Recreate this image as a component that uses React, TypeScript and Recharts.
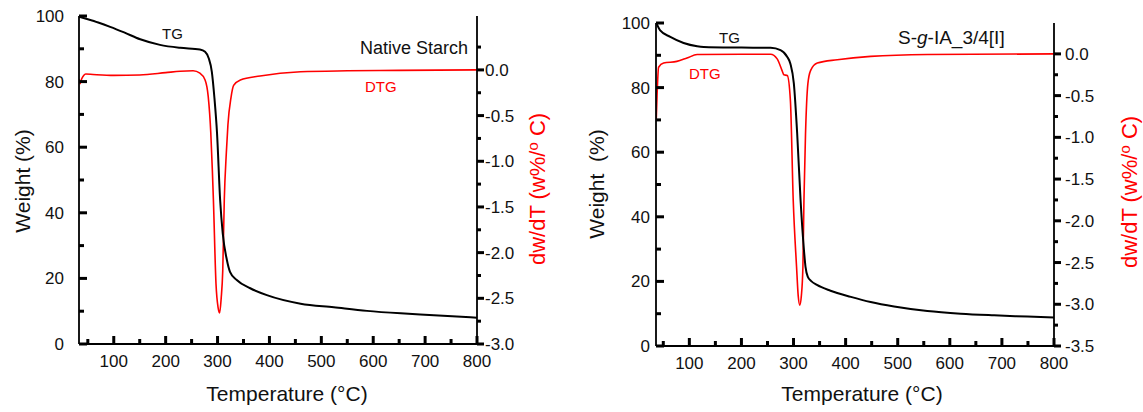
import React from "react";
import { LineChart, Line, XAxis, YAxis } from "recharts";

// axis ticks (majors get labels, minors are just marks)
const tempTicks = [50, 100, 150, 200, 250, 300, 350, 400, 450, 500, 550, 600, 650, 700, 750, 800];
const weightTicks = [0, 10, 20, 30, 40, 50, 60, 70, 80, 90, 100];
const dtgTicksNative = [0.25, 0, -0.25, -0.5, -0.75, -1, -1.25, -1.5, -1.75, -2, -2.25, -2.5, -2.75, -3];
const dtgTicksGrafted = [0, -0.25, -0.5, -0.75, -1, -1.25, -1.5, -1.75, -2, -2.25, -2.5, -2.75, -3, -3.25, -3.5];

// Native starch
const nativeTgTemp = [33, 50, 70, 93, 120, 151, 189, 228, 266, 276, 283, 289, 294, 299, 305, 310, 318, 324, 337, 363, 395, 460, 524, 588, 653, 717, 800];
const nativeTgWeight = [99.8, 99, 98, 96.7, 95, 92.9, 91.2, 90.3, 89.8, 89.1, 87.1, 83, 75, 64.3, 43.9, 33.7, 25.6, 22, 19.5, 17, 14.9, 12.3, 11.2, 10.1, 9.35, 8.8, 8.0];
const nativeDtgTemp = [33, 35, 38, 42, 46, 60, 100, 150, 200, 228, 253, 266, 276, 282, 287, 290, 292, 297, 301, 304, 307, 310, 313, 317, 320, 326, 331, 344, 382, 460, 550, 650, 800];
const nativeDtgValue = [-0.1, -0.15, -0.1, -0.06, -0.045, -0.05, -0.06, -0.055, -0.03, -0.015, -0.01, -0.036, -0.11, -0.29, -0.69, -1.1, -1.42, -2.34, -2.6, -2.66, -2.5, -2.2, -1.42, -0.9, -0.6, -0.3, -0.17, -0.11, -0.066, -0.02, -0.01, -0.005, 0];

// S-g-IA_3/4[I]
const graftTgTemp = [36.5, 44, 63.5, 89, 115, 127.5, 200, 256, 275, 288, 294, 300.6, 307, 313.5, 320, 323, 327.5, 334, 345, 371, 410, 448, 493, 557, 621, 685, 749, 800];
const graftTgWeight = [100, 97.7, 95.7, 93.8, 92.8, 92.6, 92.4, 92.3, 91.6, 89.5, 87.4, 81.3, 65.8, 45.2, 29.7, 24.5, 21.4, 20.1, 18.9, 17.1, 15.2, 13.6, 12.2, 10.8, 10.0, 9.5, 9.1, 8.8];
const graftDtgTemp = [36.5, 38, 41, 50.6, 76, 95.5, 115, 200, 256, 268.6, 278, 281.5, 288, 294, 299.4, 305.8, 309, 312, 315, 318, 320, 323, 327.5, 332.7, 345.6, 384, 448, 557, 800];
const graftDtgValue = [-0.78, -0.5, -0.16, -0.11, -0.09, -0.05, -0.008, -0.005, -0.005, -0.06, -0.2, -0.25, -0.26, -0.56, -1.75, -2.55, -2.9, -3.01, -2.9, -2.55, -1.75, -0.96, -0.36, -0.2, -0.11, -0.07, -0.03, -0.008, 0];

const zip = (t: number[], v: number[]) => t.map((x, i) => ({ t: x, v: v[i] }));

const FONT = '"Liberation Sans", Arial, sans-serif';
const INK = "#111";
const TW = 3; // tick stroke width

// tick marks drawn as paths (inside for bottom/left/top, outside for right)
const BottomTick = (props: any) => {
  const { x, y, payload } = props;
  const major = payload.value % 100 === 0;
  return (
    <g>
      <path d={`M${x},${y}V${y - (major ? 8 : 5)}`} stroke="#000" strokeWidth={TW} fill="none" />
      {major && (
        <text x={x} y={y + 23} textAnchor="middle" fontSize={17} fontFamily={FONT} fill={INK}>
          {payload.value}
        </text>
      )}
    </g>
  );
};

const TopTick = (props: any) => {
  const { x, y, payload } = props;
  const major = payload.value % 100 === 0;
  return <path d={`M${x},${y}V${y + (major ? 7 : 4)}`} stroke="#000" strokeWidth={TW} fill="none" />;
};

const leftTick = (gap: number) => (props: any) => {
  const { x, y, payload } = props;
  const major = payload.value % 20 === 0;
  return (
    <g>
      <path d={`M${x},${y}H${x + (major ? 8 : 5)}`} stroke="#000" strokeWidth={TW} fill="none" />
      {major && (
        <text x={x - gap} y={y + 6} textAnchor="end" fontSize={17} fontFamily={FONT} fill={INK}>
          {payload.value}
        </text>
      )}
    </g>
  );
};

const rightTick = (gap: number) => (props: any) => {
  const { x, y, payload } = props;
  const major = Math.round(payload.value * 4) % 2 === 0;
  return (
    <g>
      <path d={`M${x},${y}H${x + (major ? 7 : 4)}`} stroke="#000" strokeWidth={TW} fill="none" />
      {major && (
        <text x={x + gap} y={y + 6} textAnchor="start" fontSize={17} fontFamily={FONT} fill={INK}>
          {payload.value.toFixed(1)}
        </text>
      )}
    </g>
  );
};

type PanelProps = {
  tg: { t: number; v: number }[];
  dtg: { t: number; v: number }[];
  dtgDomain: [number, number];
  dtgTicks: number[];
  xDomain: [number, number];
  width: number;
  top: number;
  leftW: number;
  rightW: number;
  bottomH: number;
  leftGap: number;
  rightGap: number;
};

function Panel(p: PanelProps) {
  return (
    <LineChart width={p.width} height={412} margin={{ top: p.top, right: 0, bottom: 0, left: 0 }}>
      <XAxis
        xAxisId="b"
        type="number"
        dataKey="t"
        domain={p.xDomain}
        allowDataOverflow
        ticks={tempTicks}
        interval={0}
        height={p.bottomH}
        tickSize={0}
        tickMargin={0}
        tickLine={false}
        axisLine={{ stroke: "#000", strokeWidth: 1.8 }}
        tick={<BottomTick />}
      />
      <XAxis
        xAxisId="top"
        orientation="top"
        type="number"
        dataKey="t"
        domain={p.xDomain}
        allowDataOverflow
        ticks={tempTicks}
        interval={0}
        height={0}
        tickSize={0}
        tickMargin={0}
        tickLine={false}
        axisLine={{ stroke: "#000", strokeWidth: 1.5 }}
        tick={<TopTick />}
      />
      <YAxis
        yAxisId="w"
        type="number"
        domain={[0, 100]}
        ticks={weightTicks}
        interval={0}
        width={p.leftW}
        tickSize={0}
        tickMargin={0}
        tickLine={false}
        axisLine={{ stroke: "#000", strokeWidth: 1.8 }}
        tick={leftTick(p.leftGap)}
      />
      <YAxis
        yAxisId="d"
        orientation="right"
        type="number"
        domain={p.dtgDomain}
        allowDataOverflow
        ticks={p.dtgTicks}
        interval={0}
        width={p.rightW}
        tickSize={0}
        tickMargin={0}
        tickLine={false}
        axisLine={{ stroke: "#000", strokeWidth: 1.8 }}
        tick={rightTick(p.rightGap)}
      />
      <Line
        data={p.dtg}
        xAxisId="b"
        yAxisId="d"
        dataKey="v"
        type="monotone"
        stroke="#ff0000"
        strokeWidth={1.6}
        dot={false}
        isAnimationActive={false}
      />
      <Line
        data={p.tg}
        xAxisId="b"
        yAxisId="w"
        dataKey="v"
        type="monotone"
        stroke="#000"
        strokeWidth={2}
        dot={false}
        isAnimationActive={false}
      />
    </LineChart>
  );
}

export default function App() {
  return (
    <div style={{ position: "absolute", left: 0, top: 0, width: 1143, height: 412, background: "#fff" }}>
      <div style={{ position: "absolute", left: 0, top: 0 }}>
        <Panel
          tg={zip(nativeTgTemp, nativeTgWeight)}
          dtg={zip(nativeDtgTemp, nativeDtgValue)}
          dtgDomain={[-3, 0.59]}
          dtgTicks={dtgTicksNative}
          xDomain={[33, 800]}
          width={570}
          top={16}
          leftW={79}
          rightW={93}
          bottomH={68}
          leftGap={15}
          rightGap={8}
        />
      </div>
      <div style={{ position: "absolute", left: 570, top: 0 }}>
        <Panel
          tg={zip(graftTgTemp, graftTgWeight)}
          dtg={zip(graftDtgTemp, graftDtgValue)}
          dtgDomain={[-3.5, 0.37]}
          dtgTicks={dtgTicksGrafted}
          xDomain={[36, 800]}
          width={573}
          top={23}
          leftW={86}
          rightW={89}
          bottomH={66}
          leftGap={6}
          rightGap={11}
        />
      </div>
      {/* titles and annotations */}
      <svg
        width={1143}
        height={412}
        style={{ position: "absolute", left: 0, top: 0, pointerEvents: "none" }}
        fontFamily={FONT}
      >
        <text x={30} y={181} fontSize={21} fill={INK} textAnchor="middle" transform="rotate(-90 30 181)">
          Weight (%)
        </text>
        <text x={287} y={401} fontSize={21} fill={INK} textAnchor="middle">
          Temperature (°C)
        </text>
        <text x={545} y={189} fontSize={22} fill="#ff0000" textAnchor="middle" transform="rotate(-90 545 189)">
          dw/dT (w%/<tspan fontSize={15} dy={-7}>o</tspan>
          <tspan dy={7}> C)</tspan>
        </text>
        <text x={162} y={39} fontSize={15} fill={INK}>TG</text>
        <text x={468} y={54} fontSize={18} fill={INK} textAnchor="end">Native Starch</text>
        <text x={365} y={92} fontSize={15} fill="#ff0000">DTG</text>

        <text x={604} y={184} fontSize={21} fill={INK} textAnchor="middle" transform="rotate(-90 604 184)">
          Weight{"\u00a0\u00a0"}(%)
        </text>
        <text x={862} y={401} fontSize={21} fill={INK} textAnchor="middle">
          Temperature (°C)
        </text>
        <text x={1137} y={192} fontSize={22} fill="#ff0000" textAnchor="middle" transform="rotate(-90 1137 192)">
          dw/dT (w%/<tspan fontSize={15} dy={-7}>o</tspan>
          <tspan dy={7}> C)</tspan>
        </text>
        <text x={719} y={43} fontSize={15} fill={INK}>TG</text>
        <text x={689} y={79} fontSize={15} fill="#ff0000">DTG</text>
        <text x={898} y={44} fontSize={19} fill={INK}>
          S-<tspan fontStyle="italic">g</tspan>-IA_3/4[I]
        </text>
      </svg>
    </div>
  );
}
